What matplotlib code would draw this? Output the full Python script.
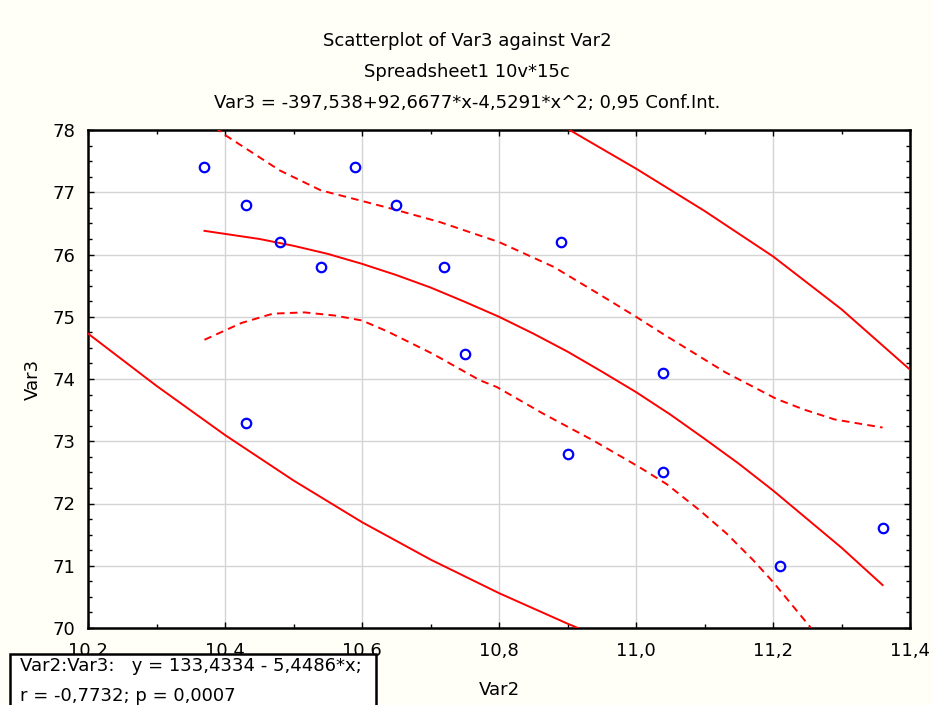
import matplotlib
matplotlib.use("Agg")
import matplotlib.pyplot as plt
from matplotlib.ticker import FixedLocator, MultipleLocator, FuncFormatter
from matplotlib.patches import Rectangle

# ---- data ----
var2 = [10.37, 10.43, 10.48, 10.54, 10.59, 10.65, 10.72, 10.75, 10.89, 10.90, 11.04, 11.04, 11.21, 11.36, 10.43]
var3 = [77.4, 76.8, 76.2, 75.8, 77.4, 76.8, 75.8, 74.4, 76.2, 72.8, 74.1, 72.5, 71.0, 71.6, 73.3]

fit_x = [10.37, 10.45, 10.5, 10.55, 10.6, 10.65, 10.7, 10.75, 10.8, 10.85, 10.9, 10.95,
         11.0, 11.05, 11.1, 11.15, 11.2, 11.25, 11.3, 11.36]
fit_y = [76.38, 76.25, 76.14, 76.01, 75.85, 75.67, 75.47, 75.24, 75.00, 74.73, 74.44, 74.12,
         73.79, 73.43, 73.04, 72.64, 72.21, 71.75, 71.29, 70.69]

ci_up_x = [10.37, 10.40, 10.48, 10.54, 10.60, 10.645, 10.714, 10.80, 10.88, 10.945, 11.00, 11.04, 11.13, 11.205, 11.245, 11.29, 11.36]
ci_up_y = [78.17, 77.92, 77.35, 77.03, 76.86, 76.73, 76.52, 76.20, 75.80, 75.37, 75.00, 74.72, 74.11, 73.68, 73.51, 73.35, 73.22]

ci_lo_x = [10.37, 10.424, 10.47, 10.516, 10.56, 10.60, 10.638, 10.704, 10.772, 10.797, 10.865, 10.938, 11.004, 11.045, 11.093, 11.132, 11.171, 11.20, 11.254, 11.30]
ci_lo_y = [74.63, 74.90, 75.05, 75.07, 75.02, 74.94, 74.76, 74.40, 73.98, 73.87, 73.44, 73.01, 72.59, 72.31, 71.89, 71.52, 71.09, 70.74, 70.02, 69.40]

pi_up_x = [10.85, 10.9, 11.0, 11.1, 11.2, 11.3, 11.4, 11.42]
pi_up_y = [78.32, 78.02, 77.38, 76.70, 75.97, 75.12, 74.15, 73.97]

pi_lo_x = [10.2, 10.3, 10.4, 10.5, 10.6, 10.7, 10.8, 10.9, 10.95]
pi_lo_y = [74.73, 73.89, 73.10, 72.37, 71.70, 71.10, 70.56, 70.07, 69.84]

x_ticks = [10.2, 10.4, 10.6, 10.8, 11.0, 11.2, 11.4]
y_ticks = [70, 71, 72, 73, 74, 75, 76, 77, 78]

title_lines = ["Scatterplot of Var3 against Var2",
               "Spreadsheet1 10v*15c",
               "Var3 = -397,538+92,6677*x-4,5291*x^2; 0,95 Conf.Int."]
box_lines = ["Var2:Var3:   y = 133,4334 - 5,4486*x;",
             "r = -0,7732; p = 0,0007"]

# ---- figure ----
plt.rcParams['font.family'] = ['DejaVu Sans']
plt.rcParams['lines.scale_dashes'] = False
W, H = 934, 705
fig = plt.figure(figsize=(W / 100, H / 100), dpi=100, facecolor='#fffff8')
ax = fig.add_axes([88 / W, 1 - 628 / H, (910 - 88) / W, (628 - 130) / H])
ax.set_facecolor('white')

red = '#ff0000'
ax.plot(pi_up_x, pi_up_y, color=red, lw=1.4, zorder=3)
ax.plot(pi_lo_x, pi_lo_y, color=red, lw=1.4, zorder=3)
ax.plot(fit_x, fit_y, color=red, lw=1.4, zorder=3)
ax.plot(ci_up_x, ci_up_y, color=red, lw=1.4, dashes=[5.5, 3.8], zorder=3)
ax.plot(ci_lo_x, ci_lo_y, color=red, lw=1.4, dashes=[5.5, 3.8], zorder=3)
ax.plot(var2, var3, ls='none', marker='o', ms=6.8, mfc='none', mec='#0000ff', mew=1.6, zorder=4)

ax.set_xlim(10.2, 11.4)
ax.set_ylim(70, 78)
ax.xaxis.set_major_locator(FixedLocator(x_ticks))
ax.yaxis.set_major_locator(FixedLocator(y_ticks))
ax.xaxis.set_minor_locator(MultipleLocator(0.1))
ax.yaxis.set_minor_locator(MultipleLocator(0.25))
ax.xaxis.set_major_formatter(FuncFormatter(lambda v, p: f"{v:.1f}".replace('.', ',')))
ax.yaxis.set_major_formatter(FuncFormatter(lambda v, p: f"{v:.0f}"))
ax.tick_params(which='both', direction='in', top=True, right=True, color='black', width=1.0)
ax.tick_params(which='major', length=4, labelsize=13)
ax.tick_params(which='minor', length=3)
ax.tick_params(axis='x', which='major', pad=10)
ax.tick_params(axis='y', which='major', pad=9)
ax.grid(True, which='major', color='#d4d4d4', lw=1.0, zorder=0)
ax.set_axisbelow(True)
for s in ax.spines.values():
    s.set_linewidth(1.8)
    s.set_color('black')

ax.set_xlabel('Var2', fontsize=13, labelpad=15)
ax.set_ylabel('Var3', fontsize=13, labelpad=8)

for i, t in enumerate(title_lines):
    fig.text(0.5, 1 - (41 + 31 * i) / H, t, ha='center', va='center', fontsize=13)

# legend box bottom-left
fig.patches.append(Rectangle((10 / W, -0.02), (376 - 10) / W, (705 - 654) / H + 0.02,
                             transform=fig.transFigure, facecolor='white',
                             edgecolor='black', lw=1.8, zorder=10))
fig.text(20 / W, 1 - 666 / H, box_lines[0], ha='left', va='center', fontsize=13, zorder=11)
fig.text(20 / W, 1 - 696 / H, box_lines[1], ha='left', va='center', fontsize=13, zorder=11)

fig.savefig('out.png', dpi=100, facecolor=fig.get_facecolor())
